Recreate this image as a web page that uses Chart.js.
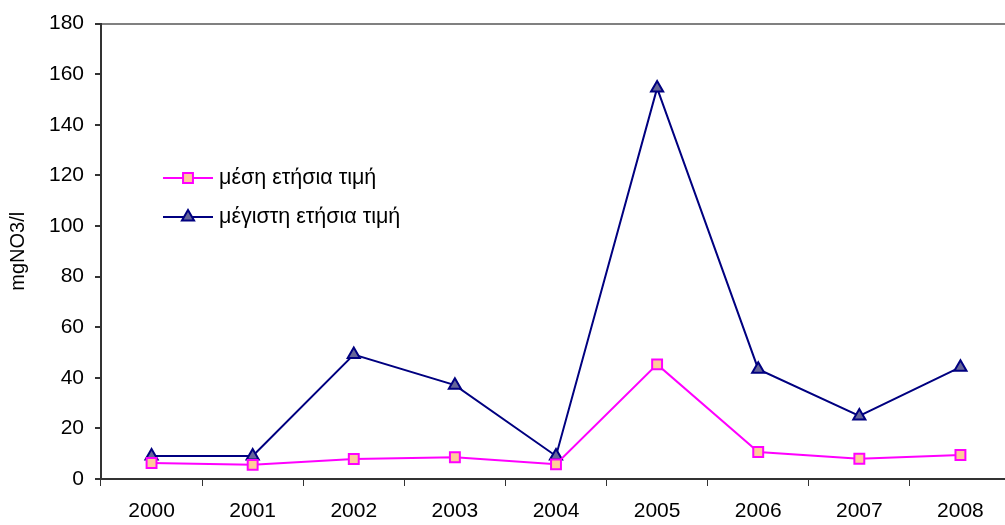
<!DOCTYPE html>
<html lang="el">
<head>
    <meta charset="UTF-8">
    <title>mgNO3/l</title>
    <style>
        html, body { margin: 0; padding: 0; overflow: hidden; background: #fff; }
        #wrap { width: 1020px; height: 525px; }
    </style>
</head>
<body>
    <div id="wrap">
        <canvas id="nitrateChart" width="1020" height="525"></canvas>
    </div>

    <script src="https://cdn.jsdelivr.net/npm/chart.js"></script>
    <script>
        const years = ['2000', '2001', '2002', '2003', '2004', '2005', '2006', '2007', '2008'];
        const meanValues = [6.3, 5.6, 7.9, 8.6, 5.8, 45.3, 10.7, 8.0, 9.5];
        const maxValues = [9.1, 9.1, 49.2, 37.1, 9.1, 154.5, 43.4, 24.9, 44.2];
        const seriesNames = ['μέση ετήσια τιμή', 'μέγιστη ετήσια τιμή'];
        const yAxisTitle = 'mgNO3/l';

        const fontFamily = '"Liberation Sans", Arial, sans-serif';

        // legend drawn inside the plot, like the original
        const insideLegend = {
            id: 'insideLegend',
            afterDraw(chart) {
                const ctx = chart.ctx;
                const rows = [178, 217];
                ctx.save();
                chart.data.datasets.forEach((ds, i) => {
                    const y = rows[i];
                    ctx.strokeStyle = ds.borderColor;
                    ctx.lineWidth = 2;
                    ctx.beginPath();
                    ctx.moveTo(163, y);
                    ctx.lineTo(213, y);
                    ctx.stroke();
                    ctx.fillStyle = ds.pointBackgroundColor;
                    ctx.strokeStyle = ds.pointBorderColor;
                    ctx.lineWidth = ds.pointBorderWidth;
                    Chart.helpers.drawPoint(ctx, {
                        pointStyle: ds.pointStyle,
                        radius: ds.pointRadius,
                        borderWidth: ds.pointBorderWidth
                    }, 188, y);
                    ctx.fillStyle = '#000';
                    ctx.font = '21.5px ' + fontFamily;
                    ctx.textBaseline = 'middle';
                    ctx.fillText(ds.label, 219, y);
                });
                ctx.restore();
            }
        };

        const data = {
            labels: years,
            datasets: [
                {
                    label: seriesNames[0],
                    data: meanValues,
                    borderColor: '#FF00FF',
                    borderWidth: 2,
                    pointStyle: 'rect',
                    pointRadius: 7,
                    pointBackgroundColor: '#FFCC99',
                    pointBorderColor: '#FF00FF',
                    pointBorderWidth: 2,
                    tension: 0
                },
                {
                    label: seriesNames[1],
                    data: maxValues,
                    borderColor: '#000080',
                    borderWidth: 2,
                    pointStyle: 'triangle',
                    pointRadius: 7,
                    pointBackgroundColor: '#666699',
                    pointBorderColor: '#000080',
                    pointBorderWidth: 2,
                    tension: 0
                }
            ]
        };

        const config = {
            type: 'line',
            data: data,
            options: {
                responsive: false,
                animation: false,
                layout: {
                    padding: { top: 23, right: 5, left: 0, bottom: 0 }
                },
                plugins: {
                    legend: { display: false },
                    tooltip: { enabled: false }
                },
                scales: {
                    x: {
                        offset: true,
                        grid: {
                            offset: true,
                            drawOnChartArea: false,
                            drawTicks: true,
                            tickLength: 7,
                            tickColor: '#333'
                        },
                        border: { color: '#333', width: 2 },
                        ticks: {
                            color: '#000',
                            padding: 13,
                            maxRotation: 0,
                            font: { family: fontFamily, size: 21 }
                        },
                        afterFit(scale) { scale.height = 46; }
                    },
                    y: {
                        min: 0,
                        max: 180,
                        ticks: {
                            stepSize: 20,
                            color: '#000',
                            padding: 11,
                            font: { family: fontFamily, size: 21 }
                        },
                        grid: {
                            color: ctx => ctx.tick && ctx.tick.value === 180 ? '#808080' : 'rgba(0,0,0,0)',
                            lineWidth: 2,
                            drawTicks: true,
                            tickLength: 6,
                            tickColor: '#333'
                        },
                        border: { color: '#333', width: 2 },
                        title: {
                            display: true,
                            text: yAxisTitle,
                            color: '#000',
                            padding: { top: 6, bottom: 0 },
                            font: { family: fontFamily, size: 20 }
                        },
                        afterFit(scale) { scale.width = 101; }
                    }
                }
            },
            plugins: [insideLegend]
        };

        new Chart(document.getElementById('nitrateChart'), config);
    </script>
</body>
</html>
